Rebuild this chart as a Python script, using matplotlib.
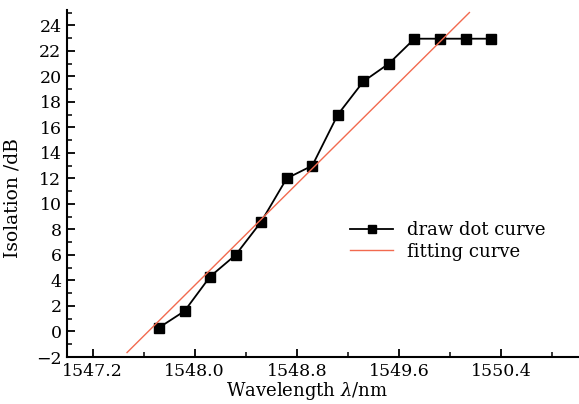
import matplotlib
matplotlib.use("Agg")
import matplotlib.pyplot as plt
from matplotlib.ticker import MultipleLocator

# Data
wavelength = [1547.72, 1547.92, 1548.12, 1548.32, 1548.52, 1548.72, 1548.92,
              1549.12, 1549.32, 1549.52, 1549.72, 1549.92, 1550.12, 1550.32]
isolation = [0.3, 1.6, 4.3, 6.0, 8.6, 12.0, 13.0, 17.0, 19.6, 21.0,
             22.95, 22.95, 22.95, 22.95]
fit_x = [1547.47, 1550.15]
fit_y = [-1.65, 25.0]
xticks = [1547.2, 1548.0, 1548.8, 1549.6, 1550.4]
yticks = list(range(-2, 25, 2))

plt.rcParams['font.family'] = ['DejaVu Serif']
plt.rcParams['mathtext.fontset'] = 'dejavuserif'

fig = plt.figure(figsize=(5.79, 4.04), dpi=100)
ax = fig.add_axes([67/579, 47/404, 511/579, 347/404])

ax.plot(wavelength, isolation, color='black', lw=1.3, marker='s',
        markersize=7, markerfacecolor='black', label='draw dot curve')
ax.plot(fit_x, fit_y, color='#f26a4f', lw=1.0, label='fitting curve')

ax.set_xlim(1547.0, 1551.0)
ax.set_ylim(-2, 25.2)
ax.set_xticks(xticks)
ax.set_xticklabels([f"{v:.1f}" for v in xticks])
ax.set_yticks(yticks)
ax.set_yticklabels([f"{v}".replace('-', '\u2212') for v in yticks])
ax.xaxis.set_minor_locator(MultipleLocator(0.4))
ax.yaxis.set_minor_locator(MultipleLocator(1))

for s in ['top', 'right']:
    ax.spines[s].set_visible(False)
for s in ['left', 'bottom']:
    ax.spines[s].set_linewidth(1.5)

ax.tick_params(which='major', direction='in', length=6, width=1.3,
               labelsize=12.5, pad=4)
ax.tick_params(which='minor', direction='in', length=3.5, width=1.1)

ax.set_ylabel('Isolation /dB', fontsize=13.5)
ax.yaxis.set_label_coords(-0.09, 0.458)
ax.set_xlabel(r'Wavelength $\lambda$/nm', fontsize=13)
ax.xaxis.set_label_coords(0.47, -0.066)

leg = ax.legend(loc='center left', bbox_to_anchor=(350/579, 1 - 241/404),
                bbox_transform=fig.transFigure, frameon=False, fontsize=13,
                handlelength=2.4, handletextpad=0.75, labelspacing=0.2,
                borderpad=0, borderaxespad=0)
leg.legend_handles[0].set_markersize(5.5)

fig.savefig('out.png', dpi=100)
